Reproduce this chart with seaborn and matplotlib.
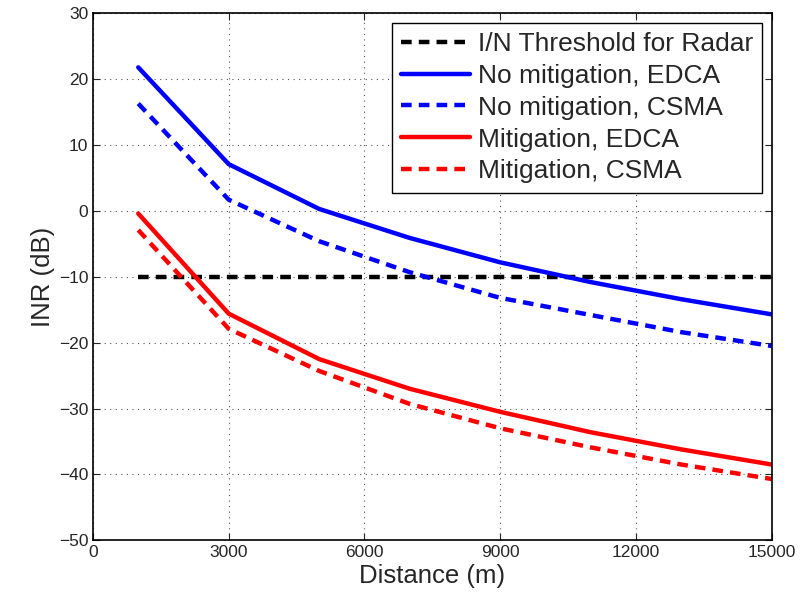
import matplotlib
matplotlib.use("Agg")
import matplotlib.pyplot as plt
import seaborn as sns
import pandas as pd

distance = [1000, 3000, 5000, 7000, 9000, 11000, 13000, 15000]
threshold = [-10, -10, -10, -10, -10, -10, -10, -10]
nomit_edca = [21.8, 7.1, 0.3, -4.1, -7.8, -10.8, -13.4, -15.7]
nomit_csma = [16.3, 1.7, -4.6, -9.3, -13.2, -15.8, -18.4, -20.5]
mit_edca = [-0.4, -15.6, -22.5, -27.0, -30.5, -33.6, -36.2, -38.5]
mit_csma = [-2.9, -17.9, -24.3, -29.3, -33.0, -35.9, -38.5, -40.7]

labels = ["I/N Threshold for Radar", "No mitigation, EDCA", "No mitigation, CSMA",
          "Mitigation, EDCA", "Mitigation, CSMA"]
colors = ["black", "#0000ff", "#0000ff", "#ff0000", "#ff0000"]
dashed = [True, False, True, False, True]

sns.set_style("ticks")
plt.rcParams['font.family'] = ['Liberation Sans', 'DejaVu Sans']

rows = []
for lab, vals in zip(labels, [threshold, nomit_edca, nomit_csma, mit_edca, mit_csma]):
    for d, v in zip(distance, vals):
        rows.append({"Distance": d, "INR": v, "Series": lab})
df = pd.DataFrame(rows)

fig, ax = plt.subplots(figsize=(8.02, 6.07), dpi=100)
fig.subplots_adjust(left=0.116, right=0.962, top=0.978, bottom=0.11)

for lab, col, ds in zip(labels, colors, dashed):
    sub = df[df["Series"] == lab]
    sns.lineplot(data=sub, x="Distance", y="INR", ax=ax, color=col, lw=3.2,
                 label=lab, linestyle=(0, (2.4, 1.6)) if ds else "-")

ax.set_xlim(0, 15000)
ax.set_ylim(-50, 30)
ax.set_xticks([0, 3000, 6000, 9000, 12000, 15000])
ax.set_yticks(range(-50, 31, 10))
ax.set_yticklabels([str(v).replace('-', '\u2212') for v in range(-50, 31, 10)])
ax.grid(True, linestyle=(0, (1, 4)), color="#555555", linewidth=0.8)
ax.tick_params(direction="in", labelsize=12.5, top=True, right=True, length=5)
for s in ax.spines.values():
    s.set_linewidth(1.2)
    s.set_color("black")
ax.set_xlabel("Distance (m)", fontsize=18.5, labelpad=3)
ax.set_ylabel("INR (dB)", fontsize=18.5, labelpad=3)

leg = ax.legend(loc="upper right", fontsize=19, frameon=True, fancybox=False,
                edgecolor="black", framealpha=1, handlelength=2.6,
                borderaxespad=0.35, labelspacing=0.3, handletextpad=0.3,
                borderpad=0.35)
leg.get_frame().set_linewidth(1.0)

fig.savefig("out.png", dpi=100)
